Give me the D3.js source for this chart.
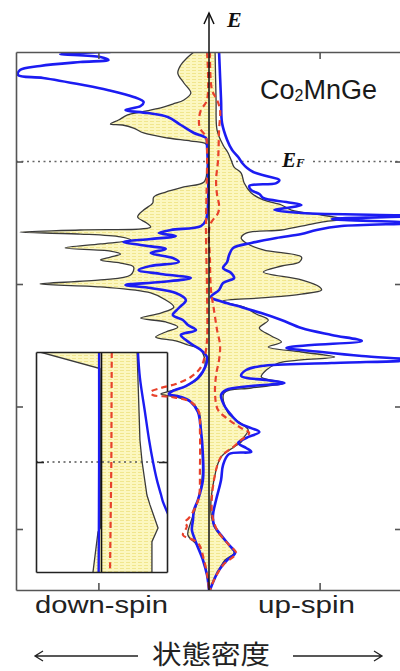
<!DOCTYPE html>
<html>
<head>
<meta charset="utf-8">
<script src="https://cdn.jsdelivr.net/npm/d3@7"></script>
<style>
  html, body { margin: 0; padding: 0; background: #fff; }
  svg { display: block; }
  .frame .domain, .frame .tick line { stroke: #555; stroke-width: 1.6; }
  .iframe .domain, .iframe .tick line { stroke: #222; stroke-width: 1.6; }
</style>
</head>
<body>
<svg id="chart" width="400" height="671"></svg>
<script>
// Spin-resolved density of states of Co2MnGe.
// Each point is [energy relative to E_F (eV), DOS (states/eV)]; down-spin DOS stored as magnitudes.
const blackUp = [[0.894,0.055],[0.502,0.064],[0.257,0.073],[0.135,0.127],[0.069,0.173],[0.012,0.2],[-0.045,0.227],[-0.094,0.291],[-0.176,0.318],[-0.257,0.382],[-0.314,0.491],[-0.355,0.655],[-0.396,0.745],[-0.437,1.018],[-0.469,1.2],[-0.494,1.018],[-0.527,0.836],[-0.559,0.655],[-0.584,0.336],[-0.624,0.291],[-0.665,0.336],[-0.722,0.491],[-0.780,0.836],[-0.820,0.818],[-0.853,0.655],[-0.902,0.491],[-0.967,0.836],[-1.024,1.0],[-1.049,1.018],[-1.082,0.836],[-1.114,0.473],[-1.139,0.127],[-1.163,0.2],[-1.188,0.318],[-1.245,0.427],[-1.294,0.536],[-1.359,0.455],[-1.424,0.564],[-1.473,0.655],[-1.514,0.536],[-1.555,0.836],[-1.596,1.136],[-1.620,0.836],[-1.645,0.627],[-1.702,0.518],[-1.759,0.473],[-1.808,0.682],[-1.849,0.382],[-1.890,0.136],[-2.053,0.173],[-2.127,0.273],[-2.192,0.355],[-2.249,0.318],[-2.290,0.291],[-2.331,0.227],[-2.412,0.109],[-2.600,0.045],[-2.869,0.018],[-3.008,0.064],[-3.131,0.182],[-3.196,0.227],[-3.253,0.145],[-3.416,0.045],[-3.498,0.009]];

const blackDown = [[0.894,0.136],[0.845,0.2],[0.788,0.255],[0.722,0.282],[0.641,0.227],[0.559,0.164],[0.502,0.227],[0.469,0.327],[0.437,0.436],[0.404,0.618],[0.380,0.736],[0.339,0.818],[0.306,0.891],[0.298,0.782],[0.273,0.682],[0.233,0.591],[0.192,0.373],[0.167,0.164],[0.143,0.027],[0.094,0.018],[-0.069,0.018],[-0.167,0.045],[-0.208,0.227],[-0.249,0.391],[-0.290,0.5],[-0.339,0.509],[-0.396,0.591],[-0.453,0.645],[-0.502,0.564],[-0.535,0.527],[-0.559,1.164],[-0.576,1.709],[-0.592,1.164],[-0.616,0.8],[-0.641,0.709],[-0.673,0.982],[-0.706,1.3],[-0.731,0.891],[-0.755,0.8],[-0.780,0.891],[-0.804,0.982],[-0.829,0.8],[-0.861,0.682],[-0.927,0.709],[-0.967,0.982],[-1.0,1.527],[-1.024,0.982],[-1.073,0.527],[-1.131,0.391],[-1.188,0.318],[-1.237,0.436],[-1.278,0.618],[-1.310,0.391],[-1.351,0.282],[-1.392,0.391],[-1.433,0.482],[-1.465,0.3],[-1.498,0.191],[-1.539,0.073],[-1.661,0.036],[-1.767,0.091],[-1.833,0.209],[-1.873,0.345],[-1.898,0.436],[-1.922,0.3],[-1.963,0.164],[-2.045,0.091],[-2.192,0.073],[-2.600,0.064],[-2.845,0.127],[-2.943,0.164],[-3.049,0.191],[-3.131,0.109],[-3.253,0.055],[-3.376,0.018],[-3.498,0]];

const blueUp = [[0.894,0.091],[0.502,0.109],[0.314,0.118],[0.176,0.164],[0.094,0.209],[0.037,0.264],[-0.012,0.3],[-0.053,0.345],[-0.086,0.4],[-0.118,0.518],[-0.151,0.636],[-0.176,0.609],[-0.2,0.364],[-0.233,0.382],[-0.265,0.455],[-0.298,0.491],[-0.331,0.7],[-0.355,0.836],[-0.380,0.7],[-0.396,0.591],[-0.420,0.836],[-0.445,1.85],[-0.469,1.109],[-0.502,1.85],[-0.527,1.2],[-0.559,0.973],[-0.592,0.836],[-0.624,0.609],[-0.665,0.382],[-0.706,0.218],[-0.763,0.182],[-0.820,0.164],[-0.869,0.127],[-0.910,0.2],[-0.951,0.227],[-0.992,0.127],[-1.049,0.091],[-1.106,0.018],[-1.147,0.127],[-1.188,0.291],[-1.237,0.473],[-1.294,0.655],[-1.359,0.836],[-1.416,1.109],[-1.465,1.382],[-1.498,0.927],[-1.522,0.7],[-1.555,1.018],[-1.588,1.382],[-1.620,1.85],[-1.645,1.109],[-1.669,0.473],[-1.702,0.336],[-1.751,0.291],[-1.784,0.518],[-1.808,0.682],[-1.833,0.382],[-1.865,0.155],[-1.906,0.109],[-1.988,0.136],[-2.069,0.2],[-2.135,0.273],[-2.176,0.382],[-2.208,0.455],[-2.257,0.336],[-2.298,0.264],[-2.339,0.336],[-2.371,0.382],[-2.388,0.182],[-2.478,0.127],[-2.600,0.109],[-2.763,0.064],[-2.886,0.036],[-2.967,0.045],[-3.049,0.109],[-3.131,0.182],[-3.196,0.236],[-3.253,0.164],[-3.335,0.091],[-3.416,0.045],[-3.498,0.009]];

const blueDown = [[0.894,0.891],[0.878,1.345],[0.853,0.982],[0.829,0.909],[0.812,1.164],[0.780,1.527],[0.747,1.709],[0.706,1.727],[0.682,1.5],[0.624,1.136],[0.584,0.918],[0.527,0.682],[0.486,0.591],[0.453,0.618],[0.420,0.755],[0.396,0.555],[0.363,0.373],[0.298,0.255],[0.233,0.136],[0.192,0.027],[0.135,0.018],[-0.478,0.027],[-0.527,0.073],[-0.559,0.345],[-0.584,0.455],[-0.608,0.3],[-0.633,0.527],[-0.657,0.773],[-0.682,0.618],[-0.714,0.391],[-0.747,0.527],[-0.788,0.327],[-0.820,0.273],[-0.853,0.527],[-0.886,0.636],[-0.918,0.436],[-0.951,0.164],[-0.984,0.436],[-1.008,0.755],[-1.033,0.527],[-1.073,0.3],[-1.131,0.209],[-1.196,0.273],[-1.253,0.327],[-1.294,0.236],[-1.335,0.191],[-1.376,0.118],[-1.416,0.255],[-1.457,0.209],[-1.498,0.145],[-1.539,0.073],[-1.596,0.018],[-1.661,0.027],[-1.767,0.1],[-1.833,0.209],[-1.873,0.327],[-1.898,0.364],[-1.922,0.255],[-1.963,0.164],[-2.045,0.1],[-2.192,0.073],[-2.396,0.055],[-2.600,0.055],[-2.763,0.1],[-2.845,0.136],[-2.927,0.145],[-3.008,0.155],[-3.065,0.136],[-3.131,0.109],[-3.253,0.055],[-3.376,0.018],[-3.498,0]];

const redUp = [[0.894,0.009],[0.584,0.027],[0.502,0.073],[0.420,0.1],[0.257,0.091],[0.012,0.082],[-0.151,0.064],[-0.273,0.073],[-0.355,0.091],[-0.420,0.082],[-0.518,0.009],[-0.804,0.009],[-1.049,0.018],[-1.212,0.045],[-1.376,0.073],[-1.498,0.1],[-1.620,0.091],[-1.743,0.064],[-1.906,0.055],[-2.029,0.082],[-2.110,0.182],[-2.176,0.291],[-2.216,0.364],[-2.273,0.291],[-2.331,0.218],[-2.412,0.109],[-2.600,0.045],[-2.869,0.027],[-3.008,0.073],[-3.131,0.182],[-3.196,0.245],[-3.294,0.127],[-3.416,0.045],[-3.498,0.009]];

const redDown = [[0.894,0.018],[0.502,0.018],[0.420,0.073],[0.339,0.091],[0.273,0.082],[0.200,0.027],[0.094,0.018],[-0.559,0.027],[-1.049,0.018],[-1.457,0.018],[-1.580,0.036],[-1.678,0.073],[-1.759,0.164],[-1.816,0.3],[-1.849,0.436],[-1.882,0.527],[-1.906,0.509],[-1.922,0.345],[-1.963,0.164],[-2.045,0.091],[-2.192,0.082],[-2.518,0.082],[-2.739,0.091],[-2.845,0.136],[-2.910,0.182],[-2.943,0.218],[-2.976,0.2],[-3.016,0.218],[-3.049,0.236],[-3.114,0.1],[-3.253,0.045],[-3.416,0.009],[-3.498,0]];

// Close-up around the Fermi level (inset)
const insetBlackUp = [[0.2,0.163],[0.091,0.172],[0.04,0.176],[0,0.186],[-0.06,0.208],[-0.078,0.222],[-0.12,0.259],[-0.145,0.231],[-0.2,0.231]];
const insetBlackDown = [[0.2,0.282],[0.17,0.007],[0.1,0.005],[-0.12,0.005],[-0.127,0.016],[-0.2,0.039]];
const insetBlueUp = [[0.2,0.167],[0.153,0.176],[0.091,0.199],[0.04,0.218],[0,0.236],[-0.033,0.254],[-0.06,0.273],[-0.073,0.282],[-0.1,0.31],[-0.13,0.33]];
const insetBlueDown = [[0.2,0.011],[0,0.011],[-0.2,0.013]];
const insetRedUp = [[0.2,0.047],[0.1,0.046],[0,0.045],[-0.1,0.042],[-0.2,0.039]];

// Axis ticks (unlabelled)
const energyTicks = [0, -1, -2, -3];
const dosTicks = [-1, 1];
const insetEnergyTicks = [0];

const svg = d3.select("#chart");
const defs = svg.append("defs");

// Main panel scales
const x = d3.scaleLinear().domain([-1.745, 1.745]).range([16, 402]);
const y = d3.scaleLinear().domain([0.894, -3.498]).range([52, 590]);
// Inset scales
const ix = d3.scaleLinear().domain([-0.3, 0.3]).range([36, 167]);
const iy = d3.scaleLinear().domain([0.2, -0.2]).range([352, 572]);

defs.append("clipPath").attr("id", "mainClip").append("rect")
  .attr("x", x.range()[0]).attr("y", y.range()[0])
  .attr("width", x.range()[1] - x.range()[0]).attr("height", y.range()[1] - y.range()[0]);
defs.append("clipPath").attr("id", "insetClip").append("rect")
  .attr("x", ix.range()[0]).attr("y", iy.range()[0])
  .attr("width", ix.range()[1] - ix.range()[0]).attr("height", iy.range()[1] - iy.range()[0]);

// Pale yellow hatched fill for the DOS area
const pat = defs.append("pattern").attr("id", "dosFill")
  .attr("patternUnits", "userSpaceOnUse").attr("width", 6).attr("height", 3);
pat.append("rect").attr("width", 6).attr("height", 3).attr("fill", "#fcf7c0");
pat.append("line").attr("x1", 0).attr("x2", 4).attr("y1", 1.5).attr("y2", 1.5)
  .attr("stroke", "#f1e68e").attr("stroke-width", 1);

const smooth = d3.curveCatmullRom.alpha(0.5);
const lineOf = (xs, ys, sign, curve) => d3.line()
  .x(d => xs(sign * d[1])).y(d => ys(d[0])).curve(curve);
const areaOf = (xs, ys, sign, curve) => d3.area()
  .y(d => ys(d[0])).x0(xs(0)).x1(d => xs(sign * d[1])).curve(curve);

const BLUE = "#1c1cf2", RED = "#e8422c", OUTLINE = "#3a3a3a";

// ---------- Inset (drawn first; main curves pass over its edge) ----------
const inset = svg.append("g");
inset.append("rect")
  .attr("x", ix.range()[0]).attr("y", iy.range()[0])
  .attr("width", ix.range()[1] - ix.range()[0]).attr("height", iy.range()[1] - iy.range()[0])
  .attr("fill", "#fff");
const ip = inset.append("g").attr("clip-path", "url(#insetClip)");
ip.append("path").datum(insetBlackUp).attr("d", areaOf(ix, iy, 1, d3.curveLinear)).attr("fill", "url(#dosFill)");
ip.append("path").datum(insetBlackDown).attr("d", areaOf(ix, iy, -1, d3.curveLinear)).attr("fill", "url(#dosFill)");
ip.append("line").attr("x1", ix.range()[0]).attr("x2", ix.range()[1])
  .attr("y1", iy(0)).attr("y2", iy(0))
  .attr("stroke", "#555").attr("stroke-width", 1.6).attr("stroke-dasharray", "2,3.5");
ip.append("path").datum(insetBlackUp).attr("d", lineOf(ix, iy, 1, d3.curveLinear))
  .attr("fill", "none").attr("stroke", OUTLINE).attr("stroke-width", 1.3);
ip.append("path").datum(insetBlackDown).attr("d", lineOf(ix, iy, -1, d3.curveLinear))
  .attr("fill", "none").attr("stroke", OUTLINE).attr("stroke-width", 1.3);
ip.append("path").datum(insetRedUp).attr("d", lineOf(ix, iy, 1, smooth))
  .attr("fill", "none").attr("stroke", RED).attr("stroke-width", 2.2).attr("stroke-dasharray", "6,4");
ip.append("path").datum(insetBlueUp).attr("d", lineOf(ix, iy, 1, smooth))
  .attr("fill", "none").attr("stroke", BLUE).attr("stroke-width", 2.4);
ip.append("path").datum(insetBlueDown).attr("d", lineOf(ix, iy, -1, smooth))
  .attr("fill", "none").attr("stroke", BLUE).attr("stroke-width", 2.4);
ip.append("line").attr("x1", ix(0)).attr("x2", ix(0))
  .attr("y1", iy.range()[0]).attr("y2", iy.range()[1])
  .attr("stroke", "#111").attr("stroke-width", 1.6);

inset.append("g").attr("class", "iframe").attr("transform", `translate(${ix.range()[0]},0)`)
  .call(d3.axisLeft(iy).tickValues(insetEnergyTicks).tickSize(-8).tickSizeOuter(0).tickFormat(""));
inset.append("g").attr("class", "iframe").attr("transform", `translate(${ix.range()[1]},0)`)
  .call(d3.axisRight(iy).tickValues(insetEnergyTicks).tickSize(-8).tickSizeOuter(0).tickFormat(""));
inset.append("g").attr("class", "iframe").attr("transform", `translate(0,${iy.range()[0]})`)
  .call(d3.axisTop(ix).tickValues([]).tickSizeOuter(0));
inset.append("g").attr("class", "iframe").attr("transform", `translate(0,${iy.range()[1]})`)
  .call(d3.axisBottom(ix).tickValues([]).tickSizeOuter(0));

// ---------- Main panel ----------
const plot = svg.append("g").attr("clip-path", "url(#mainClip)");

// Fermi level
plot.append("line").attr("x1", x.range()[0]).attr("x2", x.range()[1])
  .attr("y1", y(0)).attr("y2", y(0))
  .attr("stroke", "#666").attr("stroke-width", 1.6).attr("stroke-dasharray", "2,3.5");

plot.append("path").datum(blackUp).attr("d", areaOf(x, y, 1, smooth)).attr("fill", "url(#dosFill)");
plot.append("path").datum(blackDown).attr("d", areaOf(x, y, -1, smooth)).attr("fill", "url(#dosFill)");

plot.append("path").datum(blackUp).attr("d", lineOf(x, y, 1, smooth))
  .attr("fill", "none").attr("stroke", OUTLINE).attr("stroke-width", 1.3);
plot.append("path").datum(blackDown).attr("d", lineOf(x, y, -1, smooth))
  .attr("fill", "none").attr("stroke", OUTLINE).attr("stroke-width", 1.3);

plot.append("path").datum(blueUp).attr("d", lineOf(x, y, 1, smooth))
  .attr("fill", "none").attr("stroke", BLUE).attr("stroke-width", 2.6).attr("stroke-linejoin", "round");
plot.append("path").datum(blueDown).attr("d", lineOf(x, y, -1, smooth))
  .attr("fill", "none").attr("stroke", BLUE).attr("stroke-width", 2.6).attr("stroke-linejoin", "round");

plot.append("path").datum(redUp).attr("d", lineOf(x, y, 1, smooth))
  .attr("fill", "none").attr("stroke", RED).attr("stroke-width", 2.2).attr("stroke-dasharray", "6,4");
plot.append("path").datum(redDown).attr("d", lineOf(x, y, -1, smooth))
  .attr("fill", "none").attr("stroke", RED).attr("stroke-width", 2.2).attr("stroke-dasharray", "6,4");

// Frame with inward ticks
svg.append("g").attr("class", "frame").attr("transform", `translate(${x.range()[0]},0)`)
  .call(d3.axisLeft(y).tickValues(energyTicks).tickSize(-7).tickSizeOuter(0).tickFormat(""));
svg.append("g").attr("class", "frame").attr("transform", `translate(${x.range()[1]},0)`)
  .call(d3.axisRight(y).tickValues(energyTicks).tickSize(-7).tickSizeOuter(0).tickFormat(""));
svg.append("g").attr("class", "frame").attr("transform", `translate(0,${y.range()[0]})`)
  .call(d3.axisTop(x).tickValues(dosTicks).tickSize(-7).tickSizeOuter(0).tickFormat(""));
svg.append("g").attr("class", "frame").attr("transform", `translate(0,${y.range()[1]})`)
  .call(d3.axisBottom(x).tickValues(dosTicks).tickSize(-7).tickSizeOuter(0).tickFormat(""));

// Energy axis with arrow
const x0 = x(0);
svg.append("line").attr("x1", x0).attr("x2", x0).attr("y1", y.range()[1]).attr("y2", 13)
  .attr("stroke", "#111").attr("stroke-width", 1.5);
svg.append("path").attr("d", `M${x0 - 5},24 L${x0},13 L${x0 + 5},24`)
  .attr("fill", "none").attr("stroke", "#111").attr("stroke-width", 1.5);
svg.append("text").attr("x", x0 + 18).attr("y", 27)
  .attr("font-family", "'Liberation Serif', 'Times New Roman', serif")
  .attr("font-weight", "bold").attr("font-style", "italic").attr("font-size", 22)
  .attr("fill", "#111").text("E");

// Fermi-level label
const efX = 282, efY = y(0) + 5;
svg.append("rect").attr("x", efX - 4).attr("y", y(0) - 12).attr("width", 32).attr("height", 20).attr("fill", "#fff");
const ef = svg.append("text").attr("x", efX).attr("y", efY)
  .attr("font-family", "'Liberation Serif', 'Times New Roman', serif")
  .attr("font-weight", "bold").attr("font-style", "italic").attr("fill", "#111");
ef.append("tspan").attr("font-size", 21).text("E");
ef.append("tspan").attr("font-size", 13).text("F");

// Compound label
const comp = svg.append("text").attr("x", 260).attr("y", 99)
  .attr("font-family", "'Liberation Sans', Arial, sans-serif").attr("font-size", 27).attr("fill", "#1a1a1a");
comp.append("tspan").text("Co");
comp.append("tspan").attr("font-size", 16).attr("dy", 2).text("2");
comp.append("tspan").attr("dy", -2).text("MnGe");

// Spin labels and DOS axis title
const sans = "'Liberation Sans', Arial, sans-serif";
svg.append("text").attr("x", 35).attr("y", 613).attr("font-family", sans).attr("font-size", 23)
  .attr("fill", "#222").attr("textLength", 133).attr("lengthAdjust", "spacingAndGlyphs").text("down-spin");
svg.append("text").attr("x", 258).attr("y", 613).attr("font-family", sans).attr("font-size", 23)
  .attr("fill", "#222").attr("textLength", 97).attr("lengthAdjust", "spacingAndGlyphs").text("up-spin");
svg.append("text").attr("x", 152).attr("y", 664)
  .attr("font-family", "'Noto Sans CJK JP', 'Noto Sans CJK SC', sans-serif").attr("font-size", 26)
  .attr("fill", "#222").attr("textLength", 118).attr("lengthAdjust", "spacingAndGlyphs").text("状態密度");

const arrowY = 656;
svg.append("path").attr("d", `M138,${arrowY} H35 M43,${arrowY - 5} L35,${arrowY} L43,${arrowY + 5}`)
  .attr("fill", "none").attr("stroke", "#222").attr("stroke-width", 1.3);
svg.append("path").attr("d", `M293,${arrowY} H382 M374,${arrowY - 5} L382,${arrowY} L374,${arrowY + 5}`)
  .attr("fill", "none").attr("stroke", "#222").attr("stroke-width", 1.3);
</script>
</body>
</html>
